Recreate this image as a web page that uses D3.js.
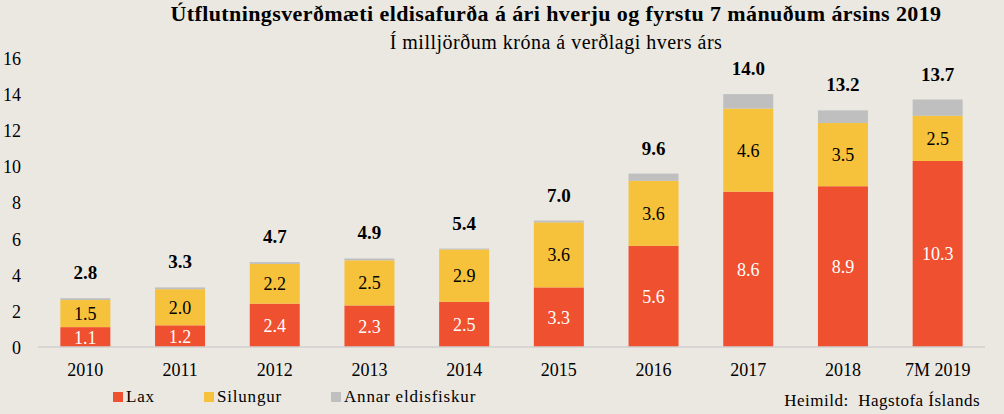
<!DOCTYPE html>
<html>
<head>
<meta charset="utf-8">
<script src="https://cdn.jsdelivr.net/npm/d3@7"></script>
<style>
  body { margin: 0; background: #ebe8e2; }
</style>
</head>
<body>
<div id="chart-area"></div>
<script>
// Gögn (lesin af myndinni)
const categories = ["2010", "2011", "2012", "2013", "2014", "2015", "2016", "2017", "2018", "7M 2019"];
const lax      = [1.1, 1.2, 2.4, 2.3, 2.5, 3.3, 5.6, 8.6, 8.9, 10.3];
const silungur = [1.5, 2.0, 2.2, 2.5, 2.9, 3.6, 3.6, 4.6, 3.5, 2.5];
const annar    = [0.1, 0.1, 0.1, 0.1, 0.05, 0.1, 0.4, 0.8, 0.7, 0.9];
const totals   = [2.8, 3.3, 4.7, 4.9, 5.4, 7.0, 9.6, 14.0, 13.2, 13.7];
const yTicks   = [0, 2, 4, 6, 8, 10, 12, 14, 16];
const seriesNames = ["Lax", "Silungur", "Annar eldisfiskur"];
const colors = ["#ef5030", "#f6c23b", "#bfbfbf"];

const width = 1004, height = 414;
const FONT = "'Liberation Serif', 'Times New Roman', serif";

const svg = d3.select("#chart-area")
    .append("svg")
    .attr("width", width)
    .attr("height", height);

svg.append("rect")
    .attr("width", width)
    .attr("height", height)
    .attr("fill", "#ebe8e2");

// Titill
svg.append("text")
    .attr("x", 556).attr("y", 21)
    .attr("text-anchor", "middle")
    .attr("font-weight", "bold")
    .attr("font-size", 22)
    .attr("letter-spacing", 0.4)
    .style("font-family", FONT)
    .text("Útflutningsverðmæti eldisafurða á ári hverju og fyrstu 7 mánuðum ársins 2019");

svg.append("text")
    .attr("x", 556).attr("y", 49)
    .attr("text-anchor", "middle")
    .attr("font-size", 20)
    .attr("letter-spacing", 0.5)
    .style("font-family", FONT)
    .text("Í milljörðum króna á verðlagi hvers árs");

// Kvarðar
const x = d3.scaleBand()
    .domain(categories)
    .range([38, 985])
    .paddingInner(0.472)
    .paddingOuter(0.236);

const y = d3.scaleLinear()
    .domain([0, 16])
    .range([347, 58]);

// Staflað gögn
const rows = categories.map((c, i) => ({ cat: c, Lax: lax[i], Silungur: silungur[i], "Annar eldisfiskur": annar[i] }));
const stacked = d3.stack().keys(seriesNames)(rows);

// y-ás
const yAxis = d3.axisLeft(y).tickValues(yTicks).tickSize(0).tickPadding(0);
const gy = svg.append("g")
    .attr("transform", "translate(21,0)")
    .call(yAxis);
gy.select(".domain").remove();
gy.selectAll("text")
    .attr("font-size", 18)
    .attr("fill", "#000")
    .attr("dy", "0.36em")
    .style("font-family", FONT);

// Súlur
const layers = svg.selectAll("g.layer")
    .data(stacked)
    .enter()
    .append("g")
    .attr("class", "layer")
    .attr("fill", (d, i) => colors[i]);

layers.selectAll("rect")
    .data(d => d)
    .enter()
    .append("rect")
    .attr("x", d => x(d.data.cat))
    .attr("y", d => y(d[1]))
    .attr("width", x.bandwidth())
    .attr("height", d => y(d[0]) - y(d[1]));

// Grunnlína
svg.append("line")
    .attr("x1", 38).attr("x2", 985)
    .attr("y1", y(0)).attr("y2", y(0))
    .attr("stroke", "#d0d0d0")
    .attr("stroke-width", 1.5);

// Gildi inni í súlum
[0, 1].forEach(k => {
    svg.selectAll("text.seg" + k)
        .data(stacked[k])
        .enter()
        .append("text")
        .attr("class", "seg" + k)
        .attr("x", d => x(d.data.cat) + x.bandwidth() / 2)
        .attr("y", d => (y(d[0]) + y(d[1])) / 2 + 6.5)
        .attr("text-anchor", "middle")
        .attr("font-size", 18)
        .attr("fill", k === 0 ? "#fff" : "#000")
        .style("font-family", FONT)
        .text(d => (d[1] - d[0]).toFixed(1));
});

// Heildartölur
svg.selectAll("text.total")
    .data(rows)
    .enter()
    .append("text")
    .attr("class", "total")
    .attr("x", d => x(d.cat) + x.bandwidth() / 2)
    .attr("y", (d, i) => y(stacked[2][i][1]) - 19)
    .attr("text-anchor", "middle")
    .attr("font-weight", "bold")
    .attr("font-size", 19)
    .style("font-family", FONT)
    .text((d, i) => totals[i].toFixed(1));

// x-ás
const xAxis = d3.axisBottom(x).tickSize(0).tickPadding(0);
const gx = svg.append("g")
    .attr("transform", "translate(0,376)")
    .call(xAxis);
gx.select(".domain").remove();
gx.selectAll("text")
    .attr("font-size", 18)
    .attr("fill", "#000")
    .attr("dy", 0)
    .style("font-family", FONT);

// Skýringar
const legendX = [113, 204, 331];
const legend = svg.selectAll("g.legend")
    .data(seriesNames)
    .enter()
    .append("g")
    .attr("class", "legend")
    .attr("transform", (d, i) => `translate(${legendX[i]},392)`);

legend.append("rect")
    .attr("width", 10).attr("height", 10)
    .attr("fill", (d, i) => colors[i]);

legend.append("text")
    .attr("x", 13).attr("y", 10)
    .attr("font-size", 17)
    .attr("letter-spacing", 0.8)
    .style("font-family", FONT)
    .text(d => d);

svg.append("text")
    .attr("x", 980).attr("y", 406)
    .attr("text-anchor", "end")
    .attr("font-size", 17)
    .attr("letter-spacing", 0.5)
    .attr("xml:space", "preserve")
    .style("font-family", FONT)
    .text("Heimild:  Hagstofa Íslands");
</script>
</body>
</html>
